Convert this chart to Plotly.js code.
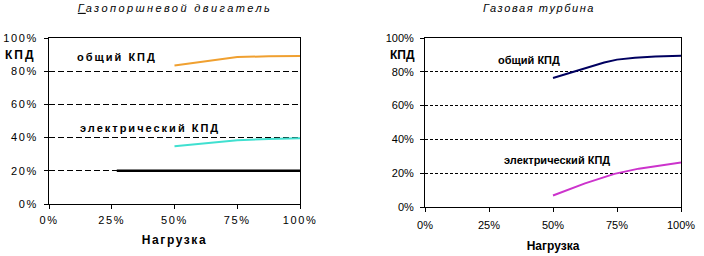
<!DOCTYPE html>
<html><head><meta charset="utf-8">
<script src="https://cdn.plot.ly/plotly-3.0.1.min.js"></script>
<style>
html,body{margin:0;padding:0;background:#fff;}
#wrap{width:704px;height:256px;display:flex;}
#g1,#g2{width:352px;height:256px;}
#g1 .xtick text,#g1 .ytick text{letter-spacing:1.6px;}
#g1 .gtitle{letter-spacing:2.4px;}
#g1 .annotation-text{letter-spacing:2px;}
#g1 .xtitle{letter-spacing:1.6px;}
#g2 .gtitle{letter-spacing:1.6px;}
</style>
</head><body>
<div id="wrap"><div id="g1"></div><div id="g2"></div></div>
<script>
// Tick values (load, efficiency)
const loadTicks = [0, 25, 50, 75, 100];
const loadTickLabels = ["0%", "25%", "50%", "75%", "100%"];
const effTicks = [0, 20, 40, 60, 80, 100];
const effTickLabels = ["0%", "20%", "40%", "60%", "80%", "100%"];

// Gas piston engine
const gpLoad = [50, 62.5, 75, 87.5, 100];
const gpTotal = [83.5, 86, 88.5, 89, 89.2];
const gpElec = [34.8, 36.6, 38.4, 39.2, 39.6];
const gpBaseLoad = [27, 100];
const gpBase = [20, 20];

// Gas turbine
const gtLoad = [50, 61, 70, 75, 82, 90, 100];
const gtTotal = [76.3, 81.4, 85.5, 87.2, 88.3, 89, 89.5];
const gtElecLoad = [50, 62.5, 74, 83.5, 100];
const gtElec = [6.8, 14, 19.6, 22.7, 26.3];

const FONT = "Liberation Sans, Arial, sans-serif";

function axisX(standoff, lblOff){
  return {range:[0,100], tickvals:loadTicks, ticktext:loadTickLabels,
    ticks:"outside", ticklen:4, tickcolor:"#000", showline:true, linecolor:"#000", linewidth:1,
    mirror:true, showgrid:false, zeroline:false, fixedrange:true, ticklabelstandoff:lblOff,
    tickfont:{family:FONT,size:11,color:"#000"},
    title:{text:"<b>Нагрузка</b>", font:{family:FONT,size:12,color:"#000"}, standoff:standoff}};
}
function axisY(dash){
  return {range:[0,100], tickvals:effTicks, ticktext:effTickLabels,
    ticks:"outside", ticklen:4, tickcolor:"#000", showline:true, linecolor:"#000", linewidth:1,
    mirror:true, showgrid:true, gridcolor:"#000", gridwidth:1, griddash:dash, zeroline:false,
    fixedrange:true, ticklabelstandoff:4,
    tickfont:{family:FONT,size:11,color:"#000"}};
}
function ann(text,x,y,size,ref){
  return {text:"<b>"+text+"</b>", x:x, y:y, xref:ref||"x", yref:ref||"y", showarrow:false,
    font:{family:FONT,size:size,color:"#000"}, xanchor:"center", yanchor:"middle"};
}

Plotly.newPlot("g1", [
  {x:gpLoad, y:gpTotal, mode:"lines", line:{color:"#F0A030", width:2}, hoverinfo:"skip"},
  {x:gpLoad, y:gpElec, mode:"lines", line:{color:"#40E0D0", width:2}, hoverinfo:"skip"},
  {x:gpBaseLoad, y:gpBase, mode:"lines", line:{color:"#000", width:2.5}, hoverinfo:"skip"}
], {
  width:352, height:256, margin:{l:49, r:52, t:38, b:52},
  paper_bgcolor:"#fff", plot_bgcolor:"#fff", showlegend:false,
  title:{text:"<i><u>Г</u>азопоршневой двигатель</i>", font:{family:FONT,size:11,color:"#000"},
    xref:"container", yref:"container", x:175/352, y:1-8/256, xanchor:"center", yanchor:"middle"},
  xaxis:axisX(10, 2), yaxis:axisY("6px,3px"),
  annotations:[
    ann("КПД",-0.115,0.898,12,"paper"),
    ann("общий КПД",27.2,88.6,11),
    ann("электрический КПД",40.4,45.8,11)
  ]
}, {staticPlot:true});

Plotly.newPlot("g2", [
  {x:gtLoad, y:gtTotal, mode:"lines", line:{color:"#000060", width:2}, hoverinfo:"skip"},
  {x:gtElecLoad, y:gtElec, mode:"lines", line:{color:"#CC33CC", width:2}, hoverinfo:"skip"}
], {
  width:352, height:256, margin:{l:73, r:23, t:38, b:49},
  paper_bgcolor:"#fff", plot_bgcolor:"#fff", showlegend:false,
  title:{text:"<i>Газовая турбина</i>", font:{family:FONT,size:11,color:"#000"},
    xref:"container", yref:"container", x:187/352, y:1-8/256, xanchor:"center", yanchor:"middle"},
  xaxis:axisX(11, 4), yaxis:axisY("3px,2px"),
  annotations:[
    ann("КПД",-0.088,0.899,12,"paper"),
    ann("общий КПД",40.5,87,11),
    ann("электрический КПД",51.4,27.7,11)
  ]
}, {staticPlot:true});
</script>
</body></html>
